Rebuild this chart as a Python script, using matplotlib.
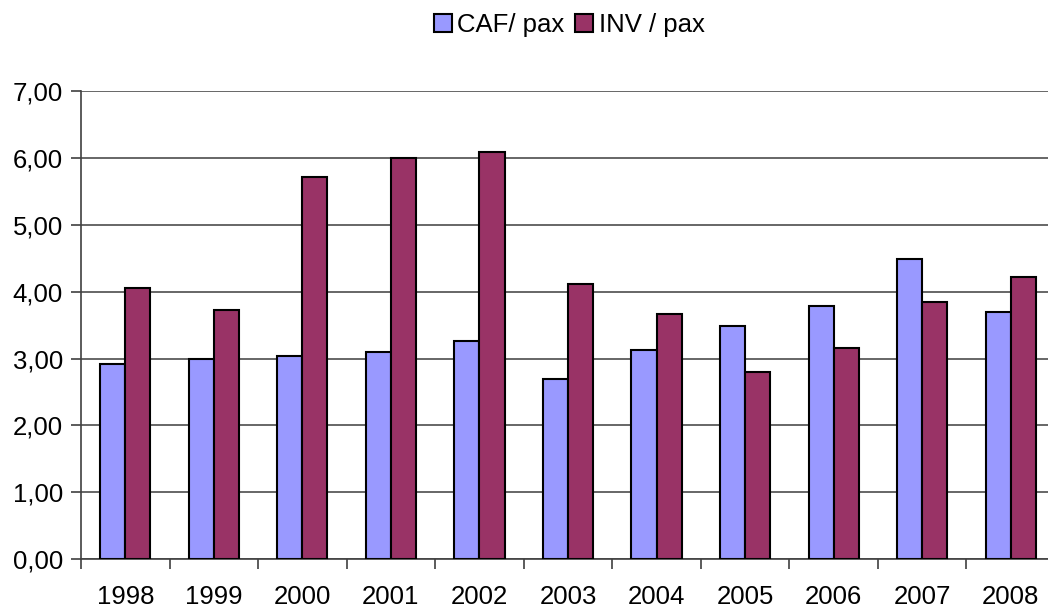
import matplotlib
matplotlib.use("Agg")
import matplotlib.pyplot as plt
import numpy as np
from matplotlib.patches import Patch

years = ["1998", "1999", "2000", "2001", "2002", "2003", "2004", "2005", "2006", "2007", "2008"]
caf = [2.92, 2.99, 3.04, 3.10, 3.26, 2.69, 3.13, 3.49, 3.79, 4.49, 3.70]
inv = [4.06, 3.73, 5.72, 6.00, 6.09, 4.12, 3.67, 2.80, 3.16, 3.85, 4.22]
yticks = [0, 1, 2, 3, 4, 5, 6, 7]
ytick_labels = ["0,00", "1,00", "2,00", "3,00", "4,00", "5,00", "6,00", "7,00"]

plt.rcParams['font.family'] = ['Liberation Sans', 'DejaVu Sans']

W, H = 1048, 610
fig = plt.figure(figsize=(W / 100, H / 100), dpi=100)
left, right, top, bottom = 81, 1055, 91.4, 559
ax = fig.add_axes([left / W, (H - bottom) / H, (right - left) / W, (bottom - top) / H])

x = np.arange(len(years))
bw = 0.283
ax.bar(x - bw / 2, caf, width=bw, color="#9999FF", edgecolor="black", linewidth=1.5, zorder=3)
ax.bar(x + bw / 2, inv, width=bw, color="#993366", edgecolor="black", linewidth=1.5, zorder=3)

fs = 18.5
ax.set_xlim(-0.5, len(years) - 0.5)
ax.set_ylim(0, 7)
ax.set_yticks(yticks)
ax.set_yticklabels(ytick_labels, fontsize=fs)
ax.yaxis.grid(True, color="#5a5a5a", linewidth=1.3, zorder=0)
ax.set_xticks(x)
ax.set_xticklabels(years, fontsize=fs)
ax.set_xticks(np.arange(len(years) + 1) - 0.5, minor=True)
ax.tick_params(axis="x", which="major", length=0, pad=19)
ax.tick_params(axis="x", which="minor", length=7, width=1.2, color="#404040")
ax.tick_params(axis="y", length=7, width=1.2, color="#404040", pad=6)

for s in ["top", "right"]:
    ax.spines[s].set_visible(False)
for s in ["left", "bottom"]:
    ax.spines[s].set_color("#404040")
    ax.spines[s].set_linewidth(1.2)

handles = [Patch(facecolor="#9999FF", edgecolor="black", linewidth=1.5, label="CAF/ pax"),
           Patch(facecolor="#993366", edgecolor="black", linewidth=1.5, label="INV / pax")]
fig.legend(handles=handles, loc="center", bbox_to_anchor=(569 / W, 1 - 25 / H), ncol=2,
           frameon=False, fontsize=fs, handlelength=0.7, handleheight=0.7,
           handletextpad=0.2, columnspacing=0.45)

fig.savefig("out.png", dpi=100)
